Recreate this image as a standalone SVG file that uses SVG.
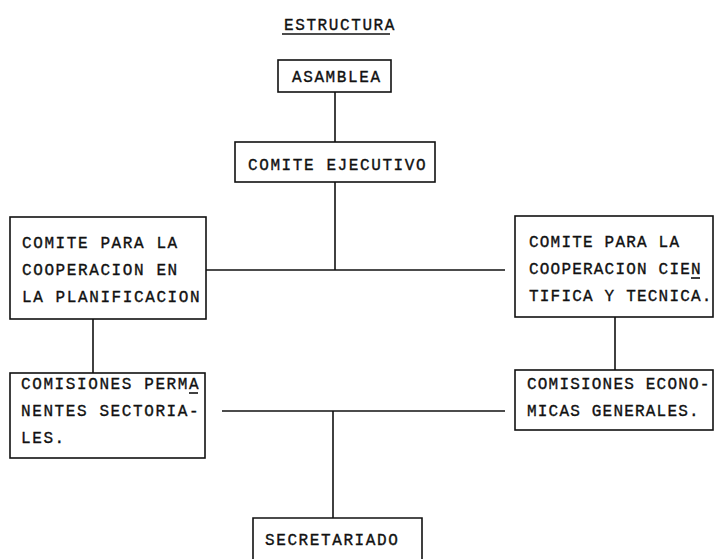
<svg xmlns="http://www.w3.org/2000/svg" width="716" height="559" viewBox="0 0 716 559">
<style>
.box{fill:none;stroke:#111;stroke-width:1.6}
.ln{stroke:#111;stroke-width:1.6;fill:none}
.t{font-family:"Liberation Mono","DejaVu Sans Mono",monospace;font-size:16px;letter-spacing:1.6px;fill:#111;stroke:#111;stroke-width:0.35}
.n{letter-spacing:1.2px}
</style>
<rect width="716" height="559" fill="#fff"/>
<g id="title">
<text class="t" x="284" y="30">ESTRUCTURA</text>
<line class="ln" x1="282" y1="34" x2="390" y2="34"/>
</g>
<g id="connectors">
<line class="ln" x1="335" y1="92" x2="335" y2="142"/>
<line class="ln" x1="335" y1="182" x2="335" y2="270"/>
<line class="ln" x1="206" y1="270" x2="505" y2="270"/>
<line class="ln" x1="93" y1="319" x2="93" y2="373"/>
<line class="ln" x1="615" y1="317" x2="615" y2="370"/>
<line class="ln" x1="222" y1="411" x2="505" y2="411"/>
<line class="ln" x1="333" y1="411" x2="333" y2="518"/>
</g>
<g id="asamblea">
<rect class="box" x="278" y="60" width="113" height="32"/>
<text class="t" x="292" y="82">ASAMBLEA</text>
</g>
<g id="comite-ejecutivo">
<rect class="box" x="235" y="142" width="200" height="40"/>
<text class="t" x="248" y="170">COMITE EJECUTIVO</text>
</g>
<g id="comite-planificacion">
<rect class="box" x="10" y="217" width="196" height="102"/>
<text class="t" x="22" y="248">COMITE PARA LA</text>
<text class="t" x="22" y="275">COOPERACION EN</text>
<text class="t" x="22" y="302">LA PLANIFICACION</text>
</g>
<g id="comite-cientifica">
<rect class="box" x="515" y="216" width="198" height="101"/>
<text class="t n" x="529" y="247">COMITE PARA LA</text>
<text class="t n" x="529" y="274">COOPERACION CIEN</text>
<line class="ln" x1="691" y1="278" x2="700" y2="278"/>
<text class="t n" x="529" y="301">TIFICA Y TECNICA.</text>
</g>
<g id="comisiones-permanentes">
<rect class="box" x="10" y="373" width="195" height="85"/>
<text class="t" x="21" y="389">COMISIONES PERMA</text>
<line class="ln" x1="189" y1="393" x2="198" y2="393"/>
<text class="t" x="21" y="416">NENTES SECTORIA-</text>
<text class="t" x="21" y="443">LES.</text>
</g>
<g id="comisiones-economicas">
<rect class="box" x="515" y="370" width="198" height="60"/>
<text class="t n" x="527" y="389">COMISIONES ECONO-</text>
<text class="t n" x="527" y="416">MICAS GENERALES.</text>
</g>
<g id="secretariado">
<path class="box" d="M253,559 V518 H422 V559"/>
<text class="t" x="265" y="545">SECRETARIADO</text>
</g>
</svg>
